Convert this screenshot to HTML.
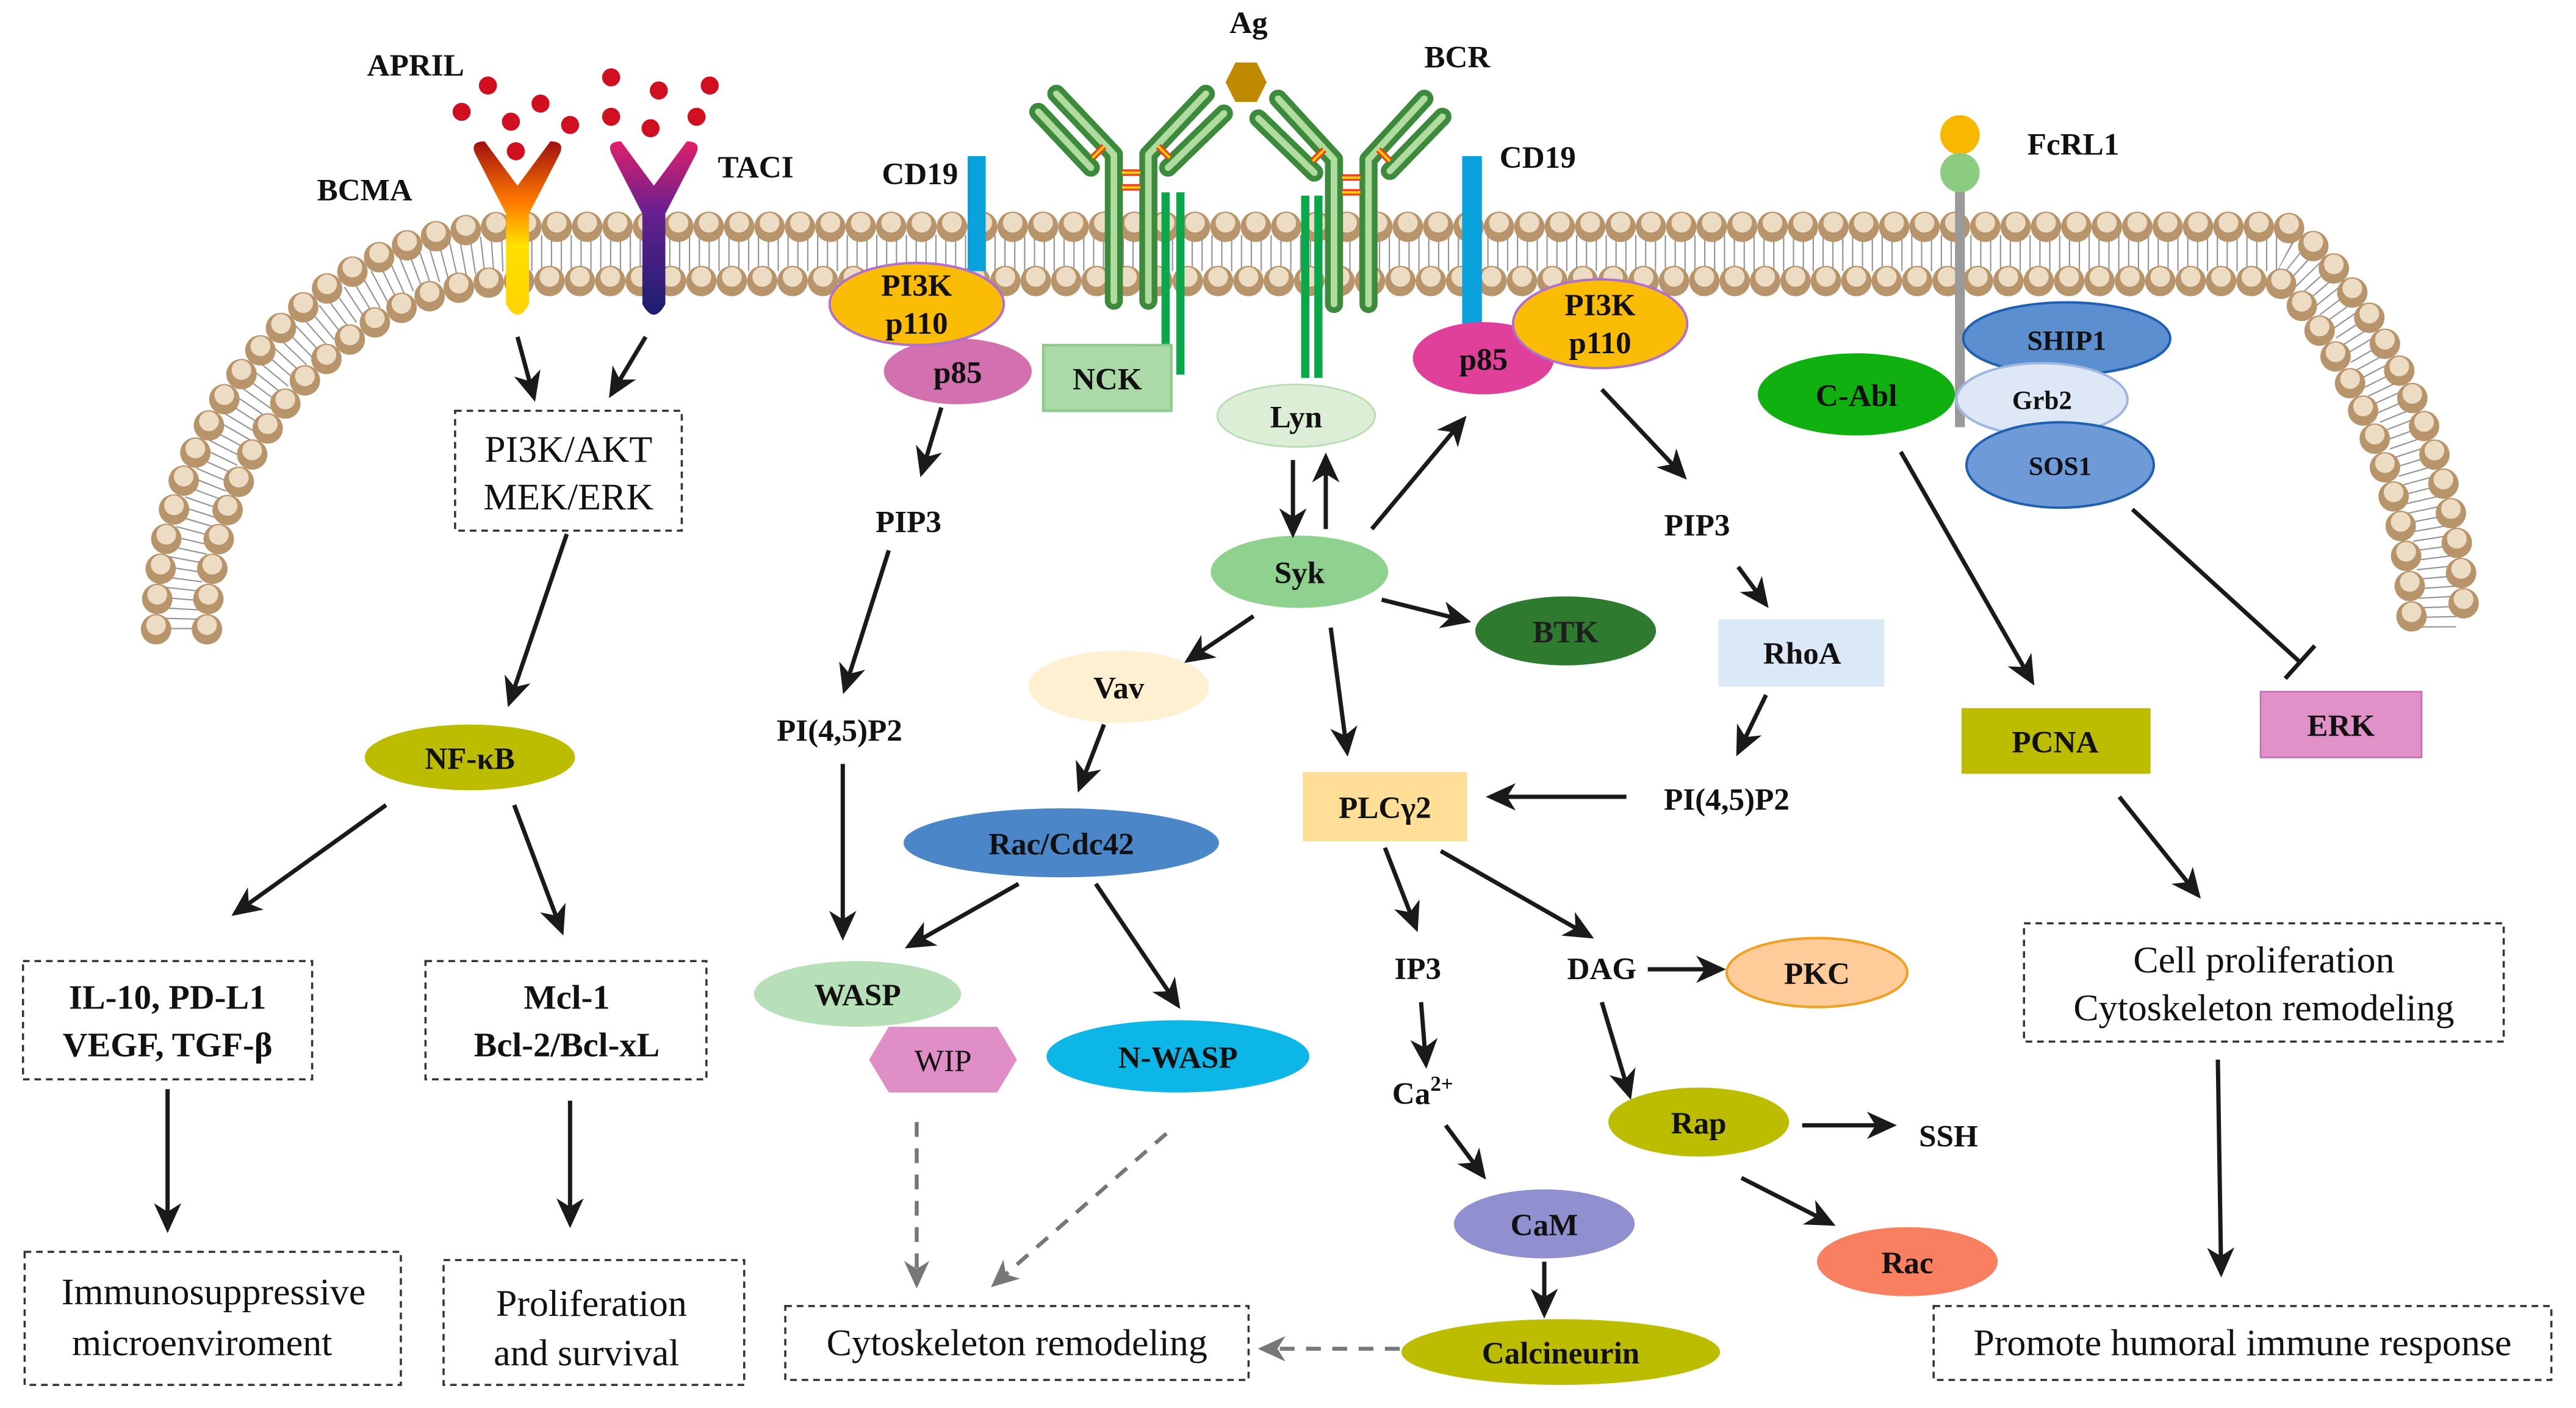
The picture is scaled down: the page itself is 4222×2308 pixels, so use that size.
<!DOCTYPE html>
<html><head><meta charset="utf-8"><style>
html,body{margin:0;padding:0;background:#fff;}
svg{display:block;}
text{font-family:"Liberation Serif","DejaVu Serif","Times New Roman",serif;}
.b{font-weight:bold;font-size:19px;fill:#111;text-anchor:middle;font-family:"Liberation Serif","DejaVu Serif",serif;}
.r{font-size:23px;fill:#111;text-anchor:middle;font-family:"Liberation Serif","DejaVu Serif",serif;}
.ar{stroke:#1a1a1a;stroke-width:2.6;fill:none;marker-end:url(#ah);}
.da{stroke:#777;stroke-width:2.4;fill:none;stroke-dasharray:9 7;marker-end:url(#ahg);}
.box{fill:#fff;stroke:#333;stroke-width:1.3;stroke-dasharray:4 3;}
</style></head><body>
<svg width="4222" height="2308" viewBox="0 0 1568 857" xmlns="http://www.w3.org/2000/svg" font-family="'Liberation Serif', 'DejaVu Serif', serif">
<defs>
<marker id="ah" markerWidth="8" markerHeight="8" refX="6" refY="4" orient="auto" markerUnits="strokeWidth"><path d="M0,0.8 L7,4 L0,7.2 L2,4 z" fill="#1a1a1a"/></marker>
<marker id="ahg" markerWidth="8" markerHeight="8" refX="6" refY="4" orient="auto" markerUnits="strokeWidth"><path d="M0,0.8 L7,4 L0,7.2 L2,4 z" fill="#777"/></marker>
<linearGradient id="gb" x1="0" y1="0" x2="0" y2="1"><stop offset="0" stop-color="#a01010"/><stop offset="0.35" stop-color="#ff7a00"/><stop offset="0.6" stop-color="#ffe000"/><stop offset="1" stop-color="#ffd400"/></linearGradient>
<linearGradient id="gt" x1="0" y1="0" x2="0" y2="1"><stop offset="0" stop-color="#e0206a"/><stop offset="0.4" stop-color="#6a2090"/><stop offset="1" stop-color="#1a1e70"/></linearGradient>
</defs>

<path d="M110,383 C110,268 200,154 312,154 L1388,154 C1400,154 1484,240 1484,383" fill="none" stroke="#666" stroke-width="22" stroke-dasharray="0.8 5.2" opacity="0.7"/>
<g fill="none" stroke-linecap="round">
<path d="M95,383 C95,260 190,138 310,138 L1390,138 C1410,138 1500,250 1500,383" stroke="#b8946a" stroke-width="18.5" stroke-dasharray="0 18.5"/>
<path d="M126,383 C126,275 210,171 315,171 L1385,171 C1395,171 1468,265 1468,383" stroke="#b8946a" stroke-width="18.5" stroke-dasharray="0 18.5"/>
<path d="M95,383 C95,260 190,138 310,138 L1390,138 C1410,138 1500,250 1500,383" stroke="#ecdcc3" stroke-width="12" stroke-dasharray="0 18.5" transform="translate(0,-2.5)"/>
<path d="M126,383 C126,275 210,171 315,171 L1385,171 C1395,171 1468,265 1468,383" stroke="#ecdcc3" stroke-width="12" stroke-dasharray="0 18.5" transform="translate(0,-2.5)"/>
</g>

<g fill="#d01020">
<circle cx="281" cy="68" r="5.5"/><circle cx="297" cy="52" r="5.5"/><circle cx="311" cy="74" r="5.5"/><circle cx="329" cy="63" r="5.5"/><circle cx="347" cy="76" r="5.5"/><circle cx="314" cy="92" r="5.5"/>
<circle cx="372" cy="47" r="5.5"/><circle cx="401" cy="55" r="5.5"/><circle cx="432" cy="52" r="5.5"/><circle cx="372" cy="71" r="5.5"/><circle cx="396" cy="78" r="5.5"/><circle cx="424" cy="71" r="5.5"/>
</g>
<text class="b" x="253" y="46">APRIL</text>
<text class="b" x="222" y="122">BCMA</text>
<text class="b" x="460" y="108">TACI</text>
<path d="M290,95 Q285,86 295,86 L315,113 L335,86 Q345,86 340,95 L322,130 L322,185 Q315,198 308,185 L308,130 Z" fill="url(#gb)"/>
<path d="M373,95 Q368,86 378,86 L398,113 L418,86 Q428,86 423,95 L405,130 L405,185 Q398,198 391,185 L391,130 Z" fill="url(#gt)"/>

<rect x="589" y="95" width="11" height="70" fill="#0aa2dd"/>
<rect x="890" y="95" width="12" height="103" fill="#0aa2dd"/>
<text class="b" x="560" y="112">CD19</text>
<text class="b" x="936" y="102">CD19</text>

<g fill="#0aa84a"><rect x="707" y="117" width="5" height="111"/><rect x="716" y="117" width="5" height="111"/><rect x="792" y="119" width="5" height="111"/><rect x="800" y="119" width="5" height="111"/></g>

<g stroke-linecap="round" stroke-linejoin="round" fill="none">
<g stroke="#3c8a3c" stroke-width="11">
<path d="M678,183 L678,94 L643,57"/><path d="M699,183 L699,94 L734,57"/>
<path d="M664,102 L632,68"/><path d="M711,102 L745,69"/>
<path d="M812,185 L812,97 L778,60"/><path d="M833,185 L833,97 L867,60"/>
<path d="M800,105 L766,72"/><path d="M846,104 L878,71"/>
</g>
<g stroke="#b0dca0" stroke-width="4">
<path d="M678,183 L678,94 L643,57"/><path d="M699,183 L699,94 L734,57"/>
<path d="M664,102 L632,68"/><path d="M711,102 L745,69"/>
<path d="M812,185 L812,97 L778,60"/><path d="M833,185 L833,97 L867,60"/>
<path d="M800,105 L766,72"/><path d="M846,104 L878,71"/>
</g>
</g>
<g stroke="#f04020" stroke-width="4">
<line x1="683" y1="105" x2="694" y2="105"/><line x1="683" y1="114" x2="694" y2="114"/>
<line x1="817" y1="108" x2="828" y2="108"/><line x1="817" y1="117" x2="828" y2="117"/>
<line x1="665" y1="96" x2="672" y2="89"/><line x1="705" y1="89" x2="712" y2="96"/>
<line x1="799" y1="98" x2="806" y2="91"/><line x1="839" y1="91" x2="846" y2="98"/></g>
<g stroke="#ffd000" stroke-width="1.5">
<line x1="683" y1="105" x2="694" y2="105"/><line x1="683" y1="114" x2="694" y2="114"/>
<line x1="817" y1="108" x2="828" y2="108"/><line x1="817" y1="117" x2="828" y2="117"/>
<line x1="665" y1="96" x2="672" y2="89"/><line x1="705" y1="89" x2="712" y2="96"/>
<line x1="799" y1="98" x2="806" y2="91"/><line x1="839" y1="91" x2="846" y2="98"/></g>
<polygon points="746,50 752,38 765,38 771,50 765,62 752,62" fill="#c08a00"/>
<text class="b" x="760" y="20">Ag</text>
<text class="b" x="887" y="41">BCR</text>

<rect x="1190" y="105" width="6" height="155" fill="#9a9a9a"/>
<circle cx="1193" cy="82" r="12" fill="#f9b800"/>
<circle cx="1193" cy="105" r="12" fill="#8ccc80"/>
<text class="b" x="1262" y="94">FcRL1</text>

<ellipse cx="583" cy="226" rx="45" ry="20" fill="#d270b0"/>
<text class="b" x="583" y="233">p85</text>
<ellipse cx="558" cy="185" rx="53" ry="25" fill="#fbbc05" stroke="#b070d0" stroke-width="1.5"/>
<text class="b" x="558" y="180">PI3K</text><text class="b" x="558" y="203">p110</text>
<rect x="635" y="210" width="78" height="40" fill="#abd9a8" stroke="#8cc88a" stroke-width="1.5"/>
<text class="b" x="674" y="237">NCK</text>

<rect class="box" x="277" y="250" width="138" height="73"/>
<text class="r" x="346" y="281">PI3K/AKT</text><text class="r" x="346" y="310">MEK/ERK</text>
<ellipse cx="286" cy="461" rx="64" ry="20" fill="#bcbc00"/>
<text class="b" x="286" y="468">NF-κB</text>
<rect class="box" x="14" y="585" width="176" height="72"/>
<text class="b" x="102" y="614" style="font-size:21px">IL-10, PD-L1</text><text class="b" x="102" y="643" style="font-size:21px">VEGF, TGF-β</text>
<rect class="box" x="259" y="585" width="171" height="72"/>
<text class="b" x="345" y="614" style="font-size:21px">Mcl-1</text><text class="b" x="345" y="643" style="font-size:21px">Bcl-2/Bcl-xL</text>
<rect class="box" x="15" y="762" width="229" height="81"/>
<text class="r" x="130" y="794">Immunosuppressive</text><text class="r" x="123" y="825">microenviroment</text>
<rect class="box" x="270" y="767" width="183" height="76"/>
<text class="r" x="360" y="801">Proliferation</text><text class="r" x="357" y="831">and survival</text>

<text class="b" x="553" y="324">PIP3</text>
<text class="b" x="511" y="451">PI(4,5)P2</text>

<ellipse cx="789" cy="253" rx="48" ry="19" fill="#dcefd6" stroke="#b6dcb0"/>
<text class="b" x="789" y="260">Lyn</text>
<ellipse cx="791" cy="348" rx="54" ry="22" fill="#8fd28f"/>
<text class="b" x="791" y="355">Syk</text>
<ellipse cx="681" cy="418" rx="55" ry="22" fill="#fff0d2"/>
<text class="b" x="681" y="425">Vav</text>
<ellipse cx="646" cy="513" rx="96" ry="21" fill="#4a86c8"/>
<text class="b" x="646" y="520">Rac/Cdc42</text>
<ellipse cx="522" cy="605" rx="63" ry="20" fill="#b8e0b8"/>
<text class="b" x="522" y="612">WASP</text>
<polygon points="529,645 541,625 607,625 619,645 607,665 541,665" fill="#e08ec6"/>
<text class="r" x="574" y="652" style="font-size:19px">WIP</text>
<ellipse cx="717" cy="643" rx="80" ry="22" fill="#0cb6e6"/>
<text class="b" x="717" y="650">N-WASP</text>
<rect class="box" x="478" y="795" width="282" height="45"/>
<text class="r" x="619" y="825">Cytoskeleton remodeling</text>

<ellipse cx="953" cy="384" rx="55" ry="21" fill="#2e7a2e"/>
<text class="b" x="953" y="391" style="fill:#1e1e1e">BTK</text>
<rect x="793" y="470" width="100" height="42" fill="#ffdf98"/>
<text class="b" x="843" y="498">PLCγ2</text>

<ellipse cx="903" cy="218" rx="43" ry="22" fill="#e0409a"/>
<text class="b" x="903" y="225">p85</text>
<ellipse cx="974" cy="197" rx="53" ry="27" fill="#fbbc05" stroke="#b070d0" stroke-width="1.5"/>
<text class="b" x="974" y="192">PI3K</text><text class="b" x="974" y="215">p110</text>
<text class="b" x="1033" y="326">PIP3</text>
<rect x="1046" y="377" width="101" height="41" fill="#dbe8f5"/>
<text class="b" x="1097" y="404">RhoA</text>
<text class="b" x="1051" y="493">PI(4,5)P2</text>

<text class="b" x="863" y="596">IP3</text>
<text class="b" x="975" y="596">DAG</text>
<ellipse cx="1106" cy="592" rx="55" ry="21" fill="#ffcc99" stroke="#f0a020" stroke-width="1.5"/>
<text class="b" x="1106" y="599">PKC</text>
<text class="b" x="866" y="672">Ca<tspan dy="-8" style="font-size:13px">2+</tspan></text>
<ellipse cx="940" cy="745" rx="55" ry="21" fill="#9090d0"/>
<text class="b" x="940" y="752">CaM</text>
<ellipse cx="950" cy="823" rx="97" ry="20" fill="#bcbc00"/>
<text class="b" x="950" y="830">Calcineurin</text>
<ellipse cx="1034" cy="683" rx="55" ry="21" fill="#bcbc00"/>
<text class="b" x="1034" y="690">Rap</text>
<text class="b" x="1186" y="698">SSH</text>
<ellipse cx="1161" cy="768" rx="55" ry="21" fill="#f88060"/>
<text class="b" x="1161" y="775">Rac</text>

<ellipse cx="1130" cy="240" rx="60" ry="25" fill="#10b010"/>
<text class="b" x="1130" y="247">C-Abl</text>
<ellipse cx="1258" cy="206" rx="63" ry="22" fill="#5b8fd0" stroke="#2060b0" stroke-width="1.5"/>
<text class="b" x="1258" y="213" style="font-size:17px">SHIP1</text>
<ellipse cx="1243" cy="243" rx="52" ry="22" fill="#dde7f5" stroke="#a0b8e0" stroke-width="1.5"/>
<text class="b" x="1243" y="249" style="font-size:16px">Grb2</text>
<ellipse cx="1254" cy="283" rx="57" ry="26" fill="#6f9ad8" stroke="#2060b0" stroke-width="1.5"/>
<text class="b" x="1254" y="289" style="font-size:16px">SOS1</text>
<rect x="1194" y="431" width="115" height="40" fill="#bcbc00"/>
<text class="b" x="1251" y="458">PCNA</text>
<rect x="1376" y="421" width="98" height="40" fill="#e092c8" stroke="#c070b0"/>
<text class="b" x="1425" y="448">ERK</text>
<rect class="box" x="1232" y="562" width="292" height="72"/>
<text class="r" x="1378" y="592">Cell proliferation</text><text class="r" x="1378" y="621">Cytoskeleton remodeling</text>
<rect class="box" x="1177" y="795" width="376" height="45"/>
<text class="r" x="1365" y="825">Promote humoral immune response</text>

<path class="ar" d="M315,205 L325,242"/>
<path class="ar" d="M393,205 L372,240"/>
<path class="ar" d="M345,325 L310,428"/>
<path class="ar" d="M235,490 L143,556"/>
<path class="ar" d="M313,490 L342,567"/>
<path class="ar" d="M102,663 L102,748"/>
<path class="ar" d="M347,670 L347,745"/>
<path class="ar" d="M573,248 L561,288"/>
<path class="ar" d="M541,335 L514,420"/>
<path class="ar" d="M513,465 L513,570"/>
<path class="ar" d="M620,538 L553,576"/>
<path class="ar" d="M667,538 L717,612"/>
<path class="da" d="M558,683 L558,782"/>
<path class="da" d="M710,690 L605,782"/>
<path class="ar" d="M787,280 L787,325"/>
<path class="ar" d="M807,322 L807,278"/>
<path class="ar" d="M835,322 L891,255"/>
<path class="ar" d="M763,375 L723,402"/>
<path class="ar" d="M672,441 L657,480"/>
<path class="ar" d="M841,365 L893,378"/>
<path class="ar" d="M810,382 L820,458"/>
<path class="ar" d="M975,237 L1025,290"/>
<path class="ar" d="M1058,345 L1075,368"/>
<path class="ar" d="M1075,423 L1058,458"/>
<path class="ar" d="M990,485 L907,485"/>
<path class="ar" d="M843,516 L862,565"/>
<path class="ar" d="M877,518 L968,570"/>
<path class="ar" d="M1003,590 L1048,590"/>
<path class="ar" d="M865,610 L868,648"/>
<path class="ar" d="M880,685 L903,716"/>
<path class="ar" d="M940,768 L940,800"/>
<path class="ar" d="M975,610 L992,667"/>
<path class="ar" d="M1097,685 L1152,685"/>
<path class="ar" d="M1060,717 L1115,745"/>
<path class="da" d="M852,821 L768,821"/>
<path class="ar" d="M1157,275 L1237,415"/>
<path d="M1298,310 L1400,403" stroke="#1a1a1a" stroke-width="2.6"/>
<path d="M1391,413 L1409,393" stroke="#1a1a1a" stroke-width="2.6"/>
<path class="ar" d="M1290,485 L1338,545"/>
<path class="ar" d="M1350,645 L1352,775"/>
</svg>
</body></html>
